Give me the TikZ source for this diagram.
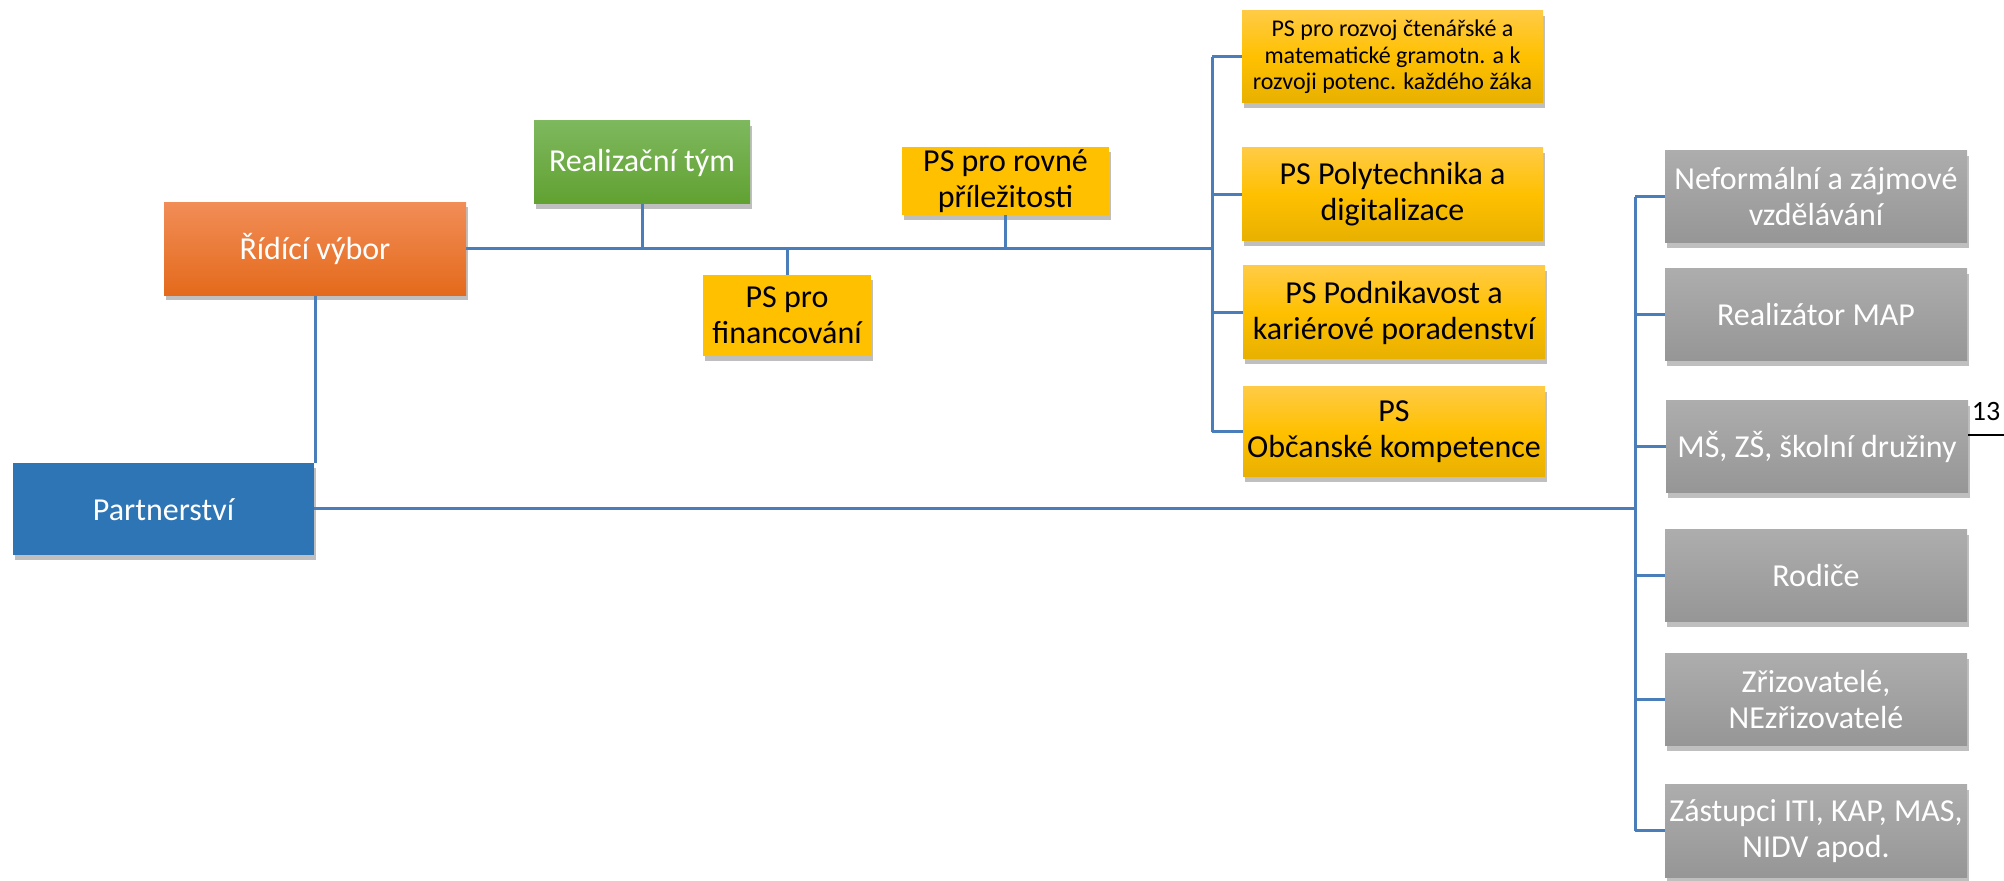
\documentclass[tikz,border=0pt]{standalone}
\usepackage{fontspec}
\setmainfont{Carlito}
\usetikzlibrary{shadows}
\definecolor{linec}{HTML}{4A7EBB}
\definecolor{orT}{HTML}{F18D57}
\definecolor{orB}{HTML}{E46A1B}
\definecolor{grT}{HTML}{7EB85E}
\definecolor{grB}{HTML}{61A131}
\definecolor{yeT}{HTML}{FFCB45}
\definecolor{yeM}{HTML}{FFC000}
\definecolor{yeB}{HTML}{E8B000}
\definecolor{gyT}{HTML}{ADADAD}
\definecolor{gyB}{HTML}{969696}
\definecolor{blu}{HTML}{2E75B6}
\tikzset{
  x=0.5pt, y=-0.5pt,
  conn/.style={draw=linec, line width=1.5pt},
  shad/.style={drop shadow={shadow xshift=1.2pt, shadow yshift=-2.5pt, fill=black, opacity=0.25}},
  boxbase/.style={rectangle, inner sep=1pt, align=center, font=\fontsize{16}{18}\selectfont, shad},
  orangebox/.style={boxbase, top color=orT, bottom color=orB, text=white},
  greenbox/.style={boxbase, top color=grT, bottom color=grB, text=white},
  yellowbox/.style={boxbase, top color=yeT, bottom color=yeB, middle color=yeM, text=black},
  flatyellow/.style={boxbase, fill=yeM, text=black},
  graybox/.style={boxbase, top color=gyT, bottom color=gyB, text=white, minimum width=151pt, minimum height=46pt},
  bluebox/.style={boxbase, fill=blu, text=white},
}
\begin{document}
\begin{tikzpicture}
\useasboundingbox (0,0) rectangle (2004,881);
% left part
\node[orangebox, minimum width=151pt, minimum height=46.5pt] (ridici) at (315,249) {Řídící výbor};
\node[greenbox, minimum width=108pt, minimum height=41.5pt] (realiz) at (642,162.5) {Realizační tým};
\node[flatyellow, minimum width=84pt, minimum height=40.5pt] (fin) at (787,315.5) {PS pro\\financování};
\node[flatyellow, minimum width=103.5pt, minimum height=33pt] (rovne) at (1005.5,181) {PS pro rovné\\příležitosti};
\node[bluebox, minimum width=150.5pt, minimum height=46pt] (partner) at (163.5,509.5) {Partnerství};
% PS column
\node[yellowbox, minimum width=150.5pt, minimum height=46pt, font=\fontsize{12}{13.2}\selectfont] (rozvoj) at (1392.5,57) {PS pro rozvoj čtenářské a\\matematické gramotn. a k\\rozvoji potenc. každého žáka};
\node[yellowbox, minimum width=150.5pt, minimum height=46.5pt] (poly) at (1392.5,194.5) {PS Polytechnika a\\digitalizace};
\node[yellowbox, minimum width=151pt, minimum height=46.5pt] (podnik) at (1394,312.5) {PS Podnikavost a\\kariérové poradenství};
\node[yellowbox, minimum width=151pt, minimum height=45pt] (obcan) at (1394,432) {PS\\Občanské kompetence};
% gray column
\node[graybox] (g1) at (1816,197) {Neformální a zájmové\\vzdělávání};
\node[graybox] (g2) at (1816,315) {Realizátor MAP};
\node[graybox] (g3) at (1817,447) {MŠ, ZŠ, školní družiny};
\node[graybox] (g4) at (1816,576) {Rodiče};
\node[graybox] (g5) at (1816,700) {Zřizovatelé,\\NEzřizovatelé};
\node[graybox] (g6) at (1816,831) {Zástupci ITI, KAP, MAS,\\NIDV apod.};
% page number
\node[font=\fontsize{14}{16}\selectfont, inner sep=0pt] (pg) at (1986,412) {13};
\coordinate (pl) at (1968,435);
\coordinate (pr) at (2004,435);
\draw[black, line width=1pt] (pl) -- (pr);
% branch points
\coordinate (b1) at (1212,249);
\coordinate (b2) at (1635,509);
% connectors
\draw[conn] (ridici.east) -- (b1);
\draw[conn] (realiz.south) -- (realiz.south |- b1);
\draw[conn] (fin.north) -- (fin.north |- b1);
\draw[conn] (rovne.south) -- (rovne.south |- b1);
\draw[conn] (b1 |- rozvoj.west) -- (b1 |- obcan.west);
\draw[conn] (b1 |- rozvoj.west) -- (rozvoj.west);
\draw[conn] (b1 |- poly.west) -- (poly.west);
\draw[conn] (b1 |- podnik.west) -- (podnik.west);
\draw[conn] (b1 |- obcan.west) -- (obcan.west);
\draw[conn] (ridici.south) -- (ridici.south |- partner.north);
\draw[conn] (partner.east |- b2) -- (b2);
\draw[conn] (b2 |- g1.west) -- (b2 |- g6.west);
\foreach \g in {g1,g2,g3,g4,g5,g6} { \draw[conn] (b2 |- \g.west) -- (\g.west); }
\end{tikzpicture}
\end{document}
